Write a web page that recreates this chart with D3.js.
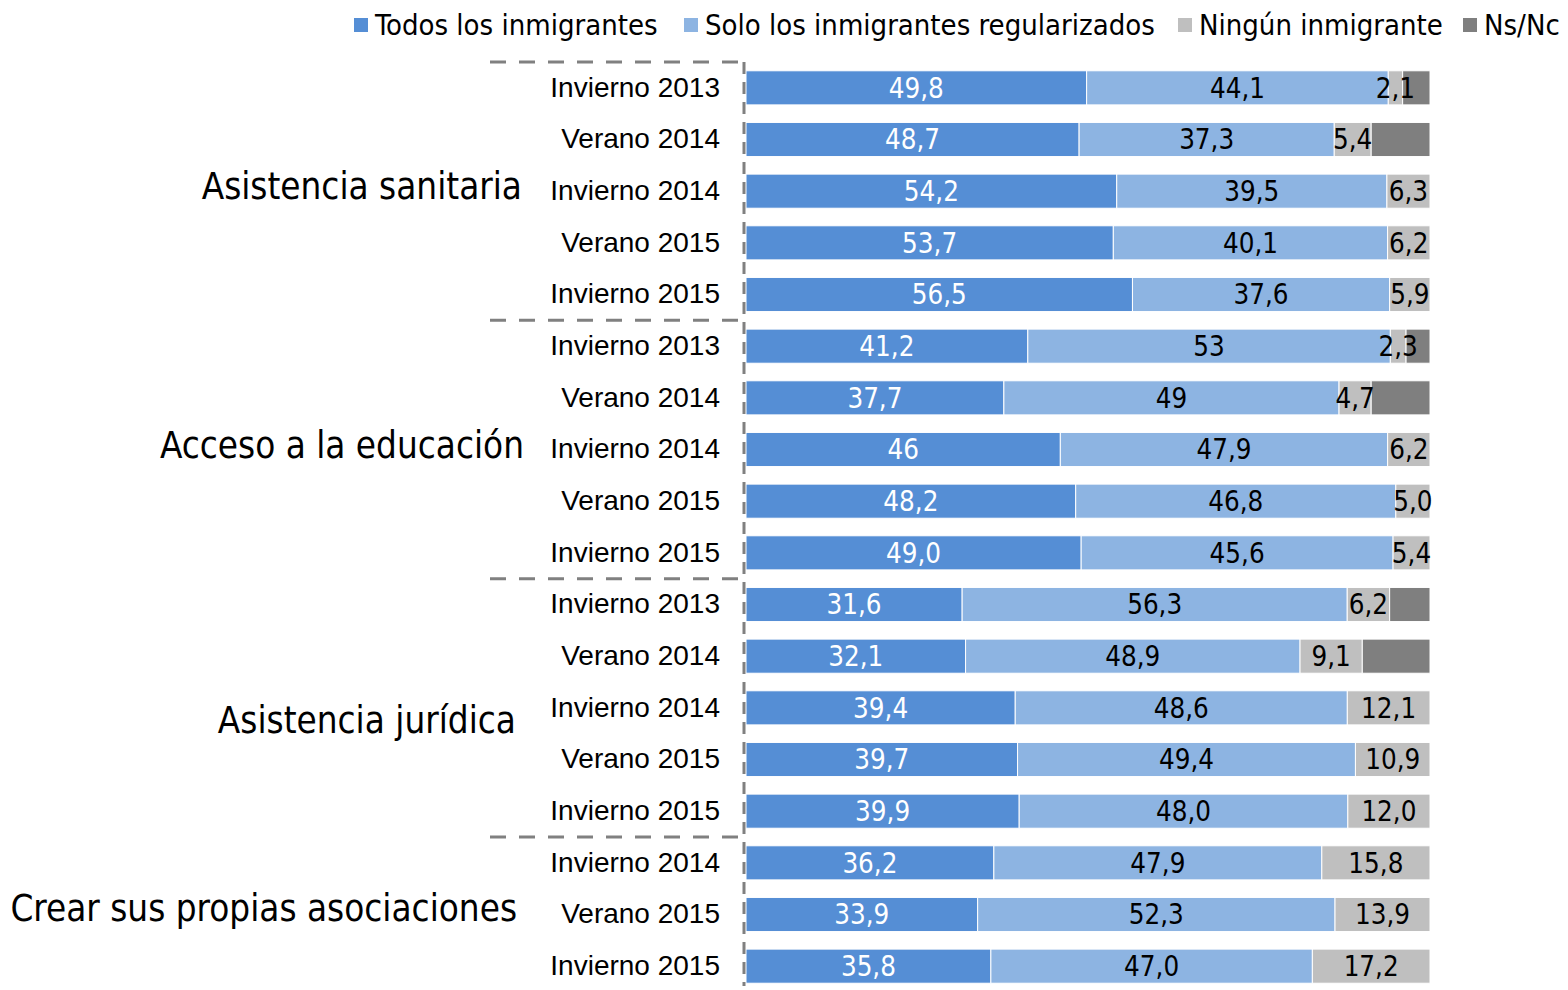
<!DOCTYPE html>
<html>
<head>
<meta charset="utf-8">
<script src="https://cdn.jsdelivr.net/npm/d3@7"></script>
<style>
  body { margin: 0; background: #fff; }
  svg { font-family: "DejaVu Sans Condensed", "DejaVu Sans", sans-serif; }
</style>
</head>
<body>
<svg width="1568" height="990"></svg>
<script>
var groups = ['Asistencia sanitaria', 'Acceso a la educación', 'Asistencia jurídica', 'Crear sus propias asociaciones'];
var groupSizes = [5, 5, 5, 3];

var periods = ['Invierno 2013', 'Verano 2014', 'Invierno 2014', 'Verano 2015', 'Invierno 2015',
               'Invierno 2013', 'Verano 2014', 'Invierno 2014', 'Verano 2015', 'Invierno 2015',
               'Invierno 2013', 'Verano 2014', 'Invierno 2014', 'Verano 2015', 'Invierno 2015',
               'Invierno 2014', 'Verano 2015', 'Invierno 2015'];

var todos      = [49.8, 48.7, 54.2, 53.7, 56.5, 41.2, 37.7, 46.0, 48.2, 49.0, 31.6, 32.1, 39.4, 39.7, 39.9, 36.2, 33.9, 35.8];
var regulares  = [44.1, 37.3, 39.5, 40.1, 37.6, 53.0, 49.0, 47.9, 46.8, 45.6, 56.3, 48.9, 48.6, 49.4, 48.0, 47.9, 52.3, 47.0];
var ninguno    = [2.1, 5.4, 6.3, 6.2, 5.9, 2.3, 4.7, 6.2, 5.0, 5.4, 6.2, 9.1, 12.1, 10.9, 12.0, 15.8, 13.9, 17.2];
var nsnc       = [4.0, 8.6, 0, 0, 0, 3.5, 8.6, 0, 0, 0, 5.9, 9.9, 0, 0, 0, 0, 0, 0];

var labels1 = ['49,8','48,7','54,2','53,7','56,5','41,2','37,7','46','48,2','49,0','31,6','32,1','39,4','39,7','39,9','36,2','33,9','35,8'];
var labels2 = ['44,1','37,3','39,5','40,1','37,6','53','49','47,9','46,8','45,6','56,3','48,9','48,6','49,4','48,0','47,9','52,3','47,0'];
var labels3 = ['2,1','5,4','6,3','6,2','5,9','2,3','4,7','6,2','5,0','5,4','6,2','9,1','12,1','10,9','12,0','15,8','13,9','17,2'];

var seriesNames = ['Todos los inmigrantes', 'Solo los inmigrantes regularizados', 'Ningún inmigrante', 'Ns/Nc'];
var colors = ['#558ED5', '#8DB4E2', '#BFBFBF', '#7F7F7F'];

var svg = d3.select('svg');

var rows = periods.map(function(p, i) {
  return { i: i, period: p, vals: [todos[i], regulares[i], ninguno[i], nsnc[i]],
           labels: [labels1[i], labels2[i], labels3[i], ''] };
});

var y = d3.scaleBand()
    .domain(d3.range(rows.length))
    .range([62, 992])
    .paddingInner(0.34)
    .paddingOuter(0.17);

var x = d3.scaleLinear().domain([0, 1]).range([746, 1430]);

var segs = [];
rows.forEach(function(r) {
  var total = d3.sum(r.vals), acc = 0;
  r.vals.forEach(function(v, k) {
    if (v > 0) segs.push({ row: r.i, k: k, x0: acc / total, x1: (acc + v) / total, label: r.labels[k] });
    acc += v;
  });
});

svg.selectAll('rect.seg')
    .data(segs)
    .enter()
    .append('rect')
    .attr('class', 'seg')
    .attr('x', function(d) { return x(d.x0); })
    .attr('y', function(d) { return y(d.row); })
    .attr('width', function(d) { return x(d.x1) - x(d.x0); })
    .attr('height', y.bandwidth())
    .attr('fill', function(d) { return colors[d.k]; })
    .attr('stroke', '#fff')
    .attr('stroke-width', 1);

svg.selectAll('text.val')
    .data(segs.filter(function(d) { return d.label; }))
    .enter()
    .append('text')
    .attr('class', 'val')
    .attr('x', function(d) { return (x(d.x0) + x(d.x1)) / 2; })
    .attr('y', function(d) { return y(d.row) + y.bandwidth() / 2; })
    .attr('dy', '0.36em')
    .attr('text-anchor', 'middle')
    .attr('font-size', 27.5)
    .attr('fill', function(d) { return d.k === 0 ? '#fff' : '#000'; })
    .text(function(d) { return d.label; });

// period labels
var axis = d3.axisLeft(y)
    .tickSize(0)
    .tickPadding(0)
    .tickFormat(function(i) { return periods[i]; });

var ag = svg.append('g')
    .attr('transform', 'translate(720,0)')
    .call(axis);
ag.select('.domain').remove();
ag.selectAll('text').attr('font-size', 28).attr('fill', '#000').attr('font-family', null);

// group dividers and labels
var step = y.step();
var top0 = 62;
var starts = [0];
groupSizes.forEach(function(n, g) { starts.push(starts[g] + n); });

svg.append('line')
    .attr('x1', 744).attr('x2', 744)
    .attr('y1', top0).attr('y2', 986)
    .attr('stroke', '#808080').attr('stroke-width', 3)
    .attr('stroke-dasharray', '12,8');

svg.selectAll('line.sep')
    .data(starts.slice(0, groupSizes.length))
    .enter()
    .append('line')
    .attr('class', 'sep')
    .attr('x1', 490).attr('x2', 745)
    .attr('y1', function(s) { return top0 + s * step; })
    .attr('y2', function(s) { return top0 + s * step; })
    .attr('stroke', '#808080').attr('stroke-width', 3)
    .attr('stroke-dasharray', '16,13');

// group labels sit a bit off-centre in the original
var groupX = [522, 524, 516, 517];
var groupDy = [-5, -5, 12, -7];
svg.selectAll('text.grp')
    .data(groups)
    .enter()
    .append('text')
    .attr('class', 'grp')
    .attr('x', function(d, g) { return groupX[g]; })
    .attr('y', function(d, g) {
      var a = starts[g], b = starts[g + 1] - 1;
      return (y(a) + y(b) + y.bandwidth()) / 2 + groupDy[g];
    })
    .attr('dy', '0.36em')
    .attr('text-anchor', 'end')
    .attr('font-size', 36.5)
    .attr('fill', '#000')
    .text(function(d) { return d; });

// legend
var legX = [354, 684, 1178, 1463];
var leg = svg.selectAll('g.leg')
    .data(seriesNames)
    .enter()
    .append('g')
    .attr('class', 'leg')
    .attr('transform', function(d, k) { return 'translate(' + legX[k] + ',25)'; });
leg.append('rect')
    .attr('x', 0).attr('y', -7)
    .attr('width', 14).attr('height', 14)
    .attr('fill', function(d, k) { return colors[k]; });
leg.append('text')
    .attr('x', 21)
    .attr('dy', '0.36em')
    .attr('font-size', 29)
    .attr('fill', '#000')
    .text(function(d) { return d; });
</script>
</body>
</html>
